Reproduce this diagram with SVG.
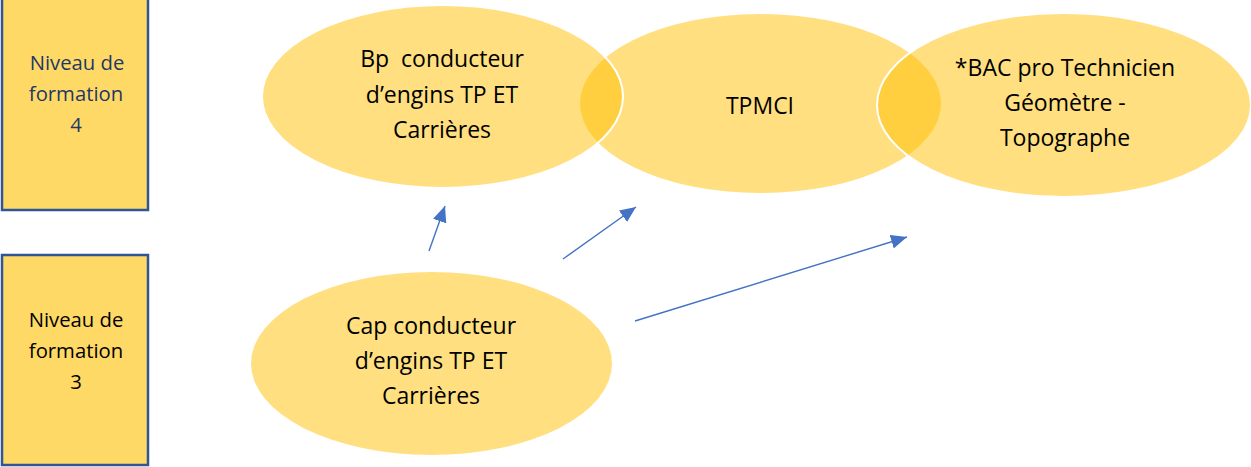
<svg xmlns="http://www.w3.org/2000/svg" width="1251" height="467" viewBox="0 0 1251 467">
<style>
.box{fill:#FFD966;stroke:#2F5597;stroke-width:2.5}
.ell{fill:#FFC000;fill-opacity:0.5}
.edge{fill:none;stroke:#FFFFFF;stroke-width:2}
text{font-family:"Open Sans","Liberation Sans",sans-serif;font-size:23px;text-anchor:middle;fill:#000}
.bt{font-size:20.3px}
.blue{fill:#1F3864}
.con{stroke:#4472C4;stroke-width:1.4;fill:none;marker-end:url(#ah)}
</style>
<defs>
<marker id="ah" markerUnits="userSpaceOnUse" markerWidth="16" markerHeight="14" viewBox="0 0 16 14" refX="16" refY="7" orient="auto">
<path d="M0,0 L16,7 L0,14 z" fill="#4472C4"/>
</marker>
</defs>
<g id="level4">
<rect class="box" x="2" y="-2" width="146" height="212"/>
<text class="bt blue" x="77" y="70">Niveau de</text>
<text class="bt blue" x="76" y="101">formation</text>
<text class="bt blue" x="76" y="132">4</text>
</g>
<g id="level3">
<rect class="box" x="2" y="255" width="146" height="210"/>
<text class="bt" x="76" y="327">Niveau de</text>
<text class="bt" x="76" y="358">formation</text>
<text class="bt" x="76" y="389">3</text>
</g>
<g id="tpmci">
<ellipse class="ell" cx="760.5" cy="103.5" rx="180.5" ry="89.5"/>
<text x="760" y="114">TPMCI</text>
</g>
<g id="bp">
<ellipse class="ell" cx="442.5" cy="96.5" rx="180.5" ry="91.5"/>
<ellipse class="edge" cx="442.5" cy="96.5" rx="180.5" ry="91.5"/>
<text x="442" y="67" xml:space="preserve">Bp  conducteur</text>
<text x="442" y="103">d’engins TP ET</text>
<text x="442" y="138">Carrières</text>
</g>
<g id="bac">
<ellipse class="ell" cx="1064" cy="105" rx="187" ry="92"/>
<ellipse class="edge" cx="1064" cy="105" rx="187" ry="92"/>
<text x="1065" y="76">*BAC pro Technicien</text>
<text x="1065" y="111">Géomètre -</text>
<text x="1065" y="146">Topographe</text>
</g>
<g id="cap">
<ellipse class="ell" cx="431.5" cy="363.5" rx="180.5" ry="91.5"/>
<text x="431" y="334">Cap conducteur</text>
<text x="431" y="369">d’engins TP ET</text>
<text x="431" y="404">Carrières</text>
</g>
<g id="connectors">
<line class="con" x1="429" y1="251" x2="445" y2="206"/>
<line class="con" x1="563" y1="259" x2="636" y2="207"/>
<line class="con" x1="635" y1="321" x2="907" y2="237"/>
</g>
</svg>
